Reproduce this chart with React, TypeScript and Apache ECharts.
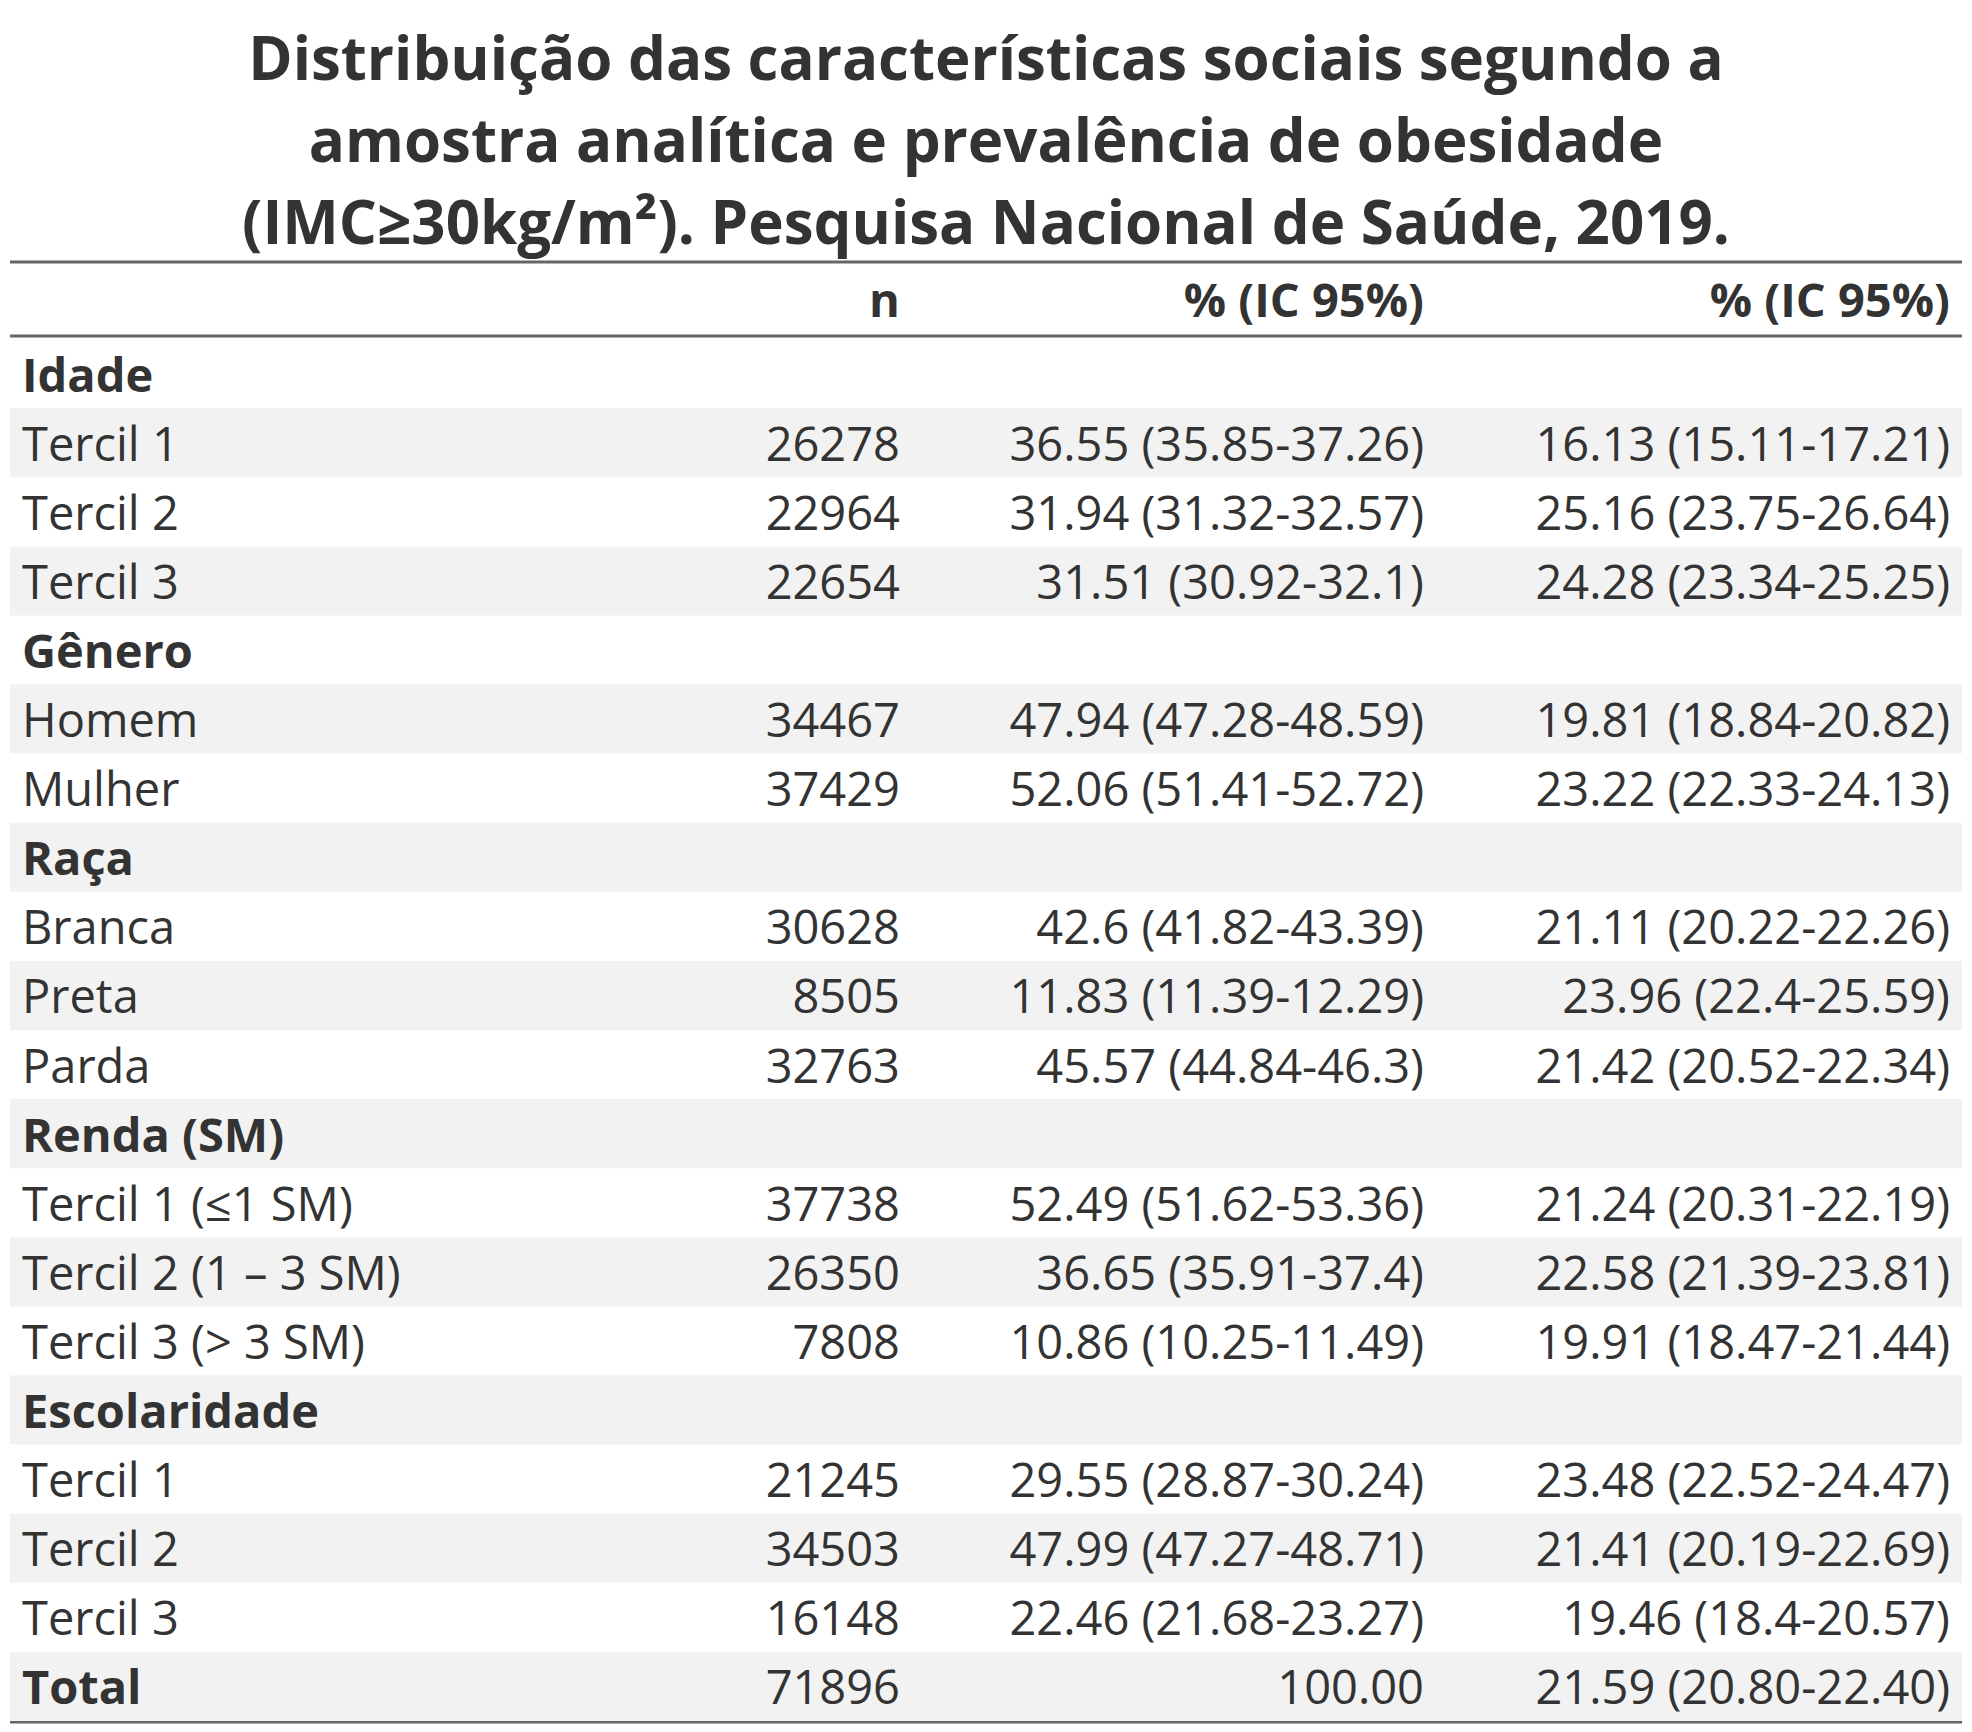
import React, { useEffect, useRef } from "react";
import * as echarts from "echarts";

const titleLines = [
  "Distribuição das características sociais segundo a",
  "amostra analítica e prevalência de obesidade",
  "(IMC≥30kg/m²). Pesquisa Nacional de Saúde, 2019.",
];
const headers = ["", "n", "% (IC 95%)", "% (IC 95%)"];
const labels = ["Idade", "Tercil 1", "Tercil 2", "Tercil 3", "Gênero", "Homem", "Mulher", "Raça", "Branca", "Preta", "Parda", "Renda (SM)", "Tercil 1 (≤1 SM)", "Tercil 2 (1 – 3 SM)", "Tercil 3 (> 3 SM)", "Escolaridade", "Tercil 1", "Tercil 2", "Tercil 3", "Total"];
const isGroup = [true, false, false, false, true, false, false, true, false, false, false, true, false, false, false, true, false, false, false, true];
const nValues = ["", "26278", "22964", "22654", "", "34467", "37429", "", "30628", "8505", "32763", "", "37738", "26350", "7808", "", "21245", "34503", "16148", "71896"];
const sampleValues = ["", "36.55 (35.85-37.26)", "31.94 (31.32-32.57)", "31.51 (30.92-32.1)", "", "47.94 (47.28-48.59)", "52.06 (51.41-52.72)", "", "42.6 (41.82-43.39)", "11.83 (11.39-12.29)", "45.57 (44.84-46.3)", "", "52.49 (51.62-53.36)", "36.65 (35.91-37.4)", "10.86 (10.25-11.49)", "", "29.55 (28.87-30.24)", "47.99 (47.27-48.71)", "22.46 (21.68-23.27)", "100.00"];
const prevValues = ["", "16.13 (15.11-17.21)", "25.16 (23.75-26.64)", "24.28 (23.34-25.25)", "", "19.81 (18.84-20.82)", "23.22 (22.33-24.13)", "", "21.11 (20.22-22.26)", "23.96 (22.4-25.59)", "21.42 (20.52-22.34)", "", "21.24 (20.31-22.19)", "22.58 (21.39-23.81)", "19.91 (18.47-21.44)", "", "23.48 (22.52-24.47)", "21.41 (20.19-22.69)", "19.46 (18.4-20.57)", "21.59 (20.80-22.40)"];

export default function App() {
  const ref = useRef<HTMLDivElement>(null);
  useEffect(() => {
    const chart = echarts.init(ref.current!, null, { renderer: "svg" });
    const F = "'Open Sans', Lato, sans-serif";
    const C = "#333";
    const els: any[] = [];
    titleLines.forEach((t, i) =>
      els.push({ type: "text", x: 986, y: 57 + i * 82, style: { text: t, fill: C, font: `bold 60px ${F}`, textAlign: "center", textVerticalAlign: "middle" } })
    );
    const L = 10, R = 1962;
    const lines = [262, 336, 1722];
    lines.forEach((y) => els.push({ type: "line", shape: { x1: L, y1: y, x2: R, y2: y }, style: { stroke: "#666", lineWidth: 3 } }));
    const colX = [22, 900, 1424, 1950];
    headers.forEach((h, i) => {
      if (h) els.push({ type: "text", x: colX[i], y: 299, style: { text: h, fill: C, font: `bold 47px ${F}`, textAlign: "right", textVerticalAlign: "middle" } });
    });
    const top = 339, rh = 69.1;
    labels.forEach((lab, r) => {
      const y0 = top + r * rh;
      if (r % 2 === 1) els.push({ type: "rect", shape: { x: L, y: y0, width: R - L, height: rh }, style: { fill: "#f2f2f2" } });
      const cy = y0 + rh / 2;
      els.push({ type: "text", x: colX[0], y: cy, style: { text: lab, fill: C, font: `${isGroup[r] ? "bold " : ""}47px ${F}`, textVerticalAlign: "middle" } });
      [nValues[r], sampleValues[r], prevValues[r]].forEach((v, c) => {
        if (v) els.push({ type: "text", x: colX[c + 1], y: cy, style: { text: v, fill: C, font: `47px ${F}`, textAlign: "right", textVerticalAlign: "middle" } });
      });
    });
    chart.setOption({ animation: false, backgroundColor: "#fff", graphic: { elements: els } });
    return () => chart.dispose();
  }, []);
  return <div ref={ref} style={{ position: "absolute", left: 0, top: 0, width: 1972, height: 1732 }} />;
}
